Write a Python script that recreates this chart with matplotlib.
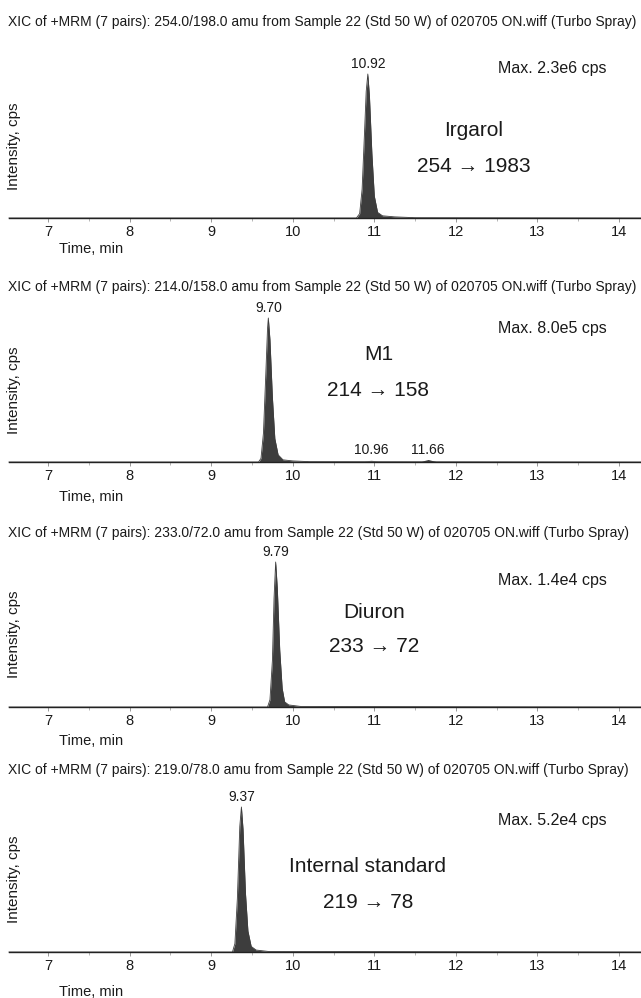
import matplotlib
matplotlib.use("Agg")
import matplotlib.pyplot as plt
from matplotlib.ticker import MultipleLocator

# ---------------- data ----------------
titles = [
    "XIC of +MRM (7 pairs): 254.0/198.0 amu from Sample 22 (Std 50 W) of 020705 ON.wiff (Turbo Spray)",
    "XIC of +MRM (7 pairs): 214.0/158.0 amu from Sample 22 (Std 50 W) of 020705 ON.wiff (Turbo Spray)",
    "XIC of +MRM (7 pairs): 233.0/72.0 amu from Sample 22 (Std 50 W) of 020705 ON.wiff (Turbo Spray)",
    "XIC of +MRM (7 pairs): 219.0/78.0 amu from Sample 22 (Std 50 W) of 020705 ON.wiff (Turbo Spray)",
]
compounds = ["Irgarol", "M1", "Diuron", "Internal standard"]
transitions = ["254 \u2192 1983", "214 \u2192 158", "233 \u2192 72", "219 \u2192 78"]
max_cps = [2.3e6, 8.0e5, 1.4e4, 5.2e4]
max_labels = ["Max. 2.3e6 cps", "Max. 8.0e5 cps", "Max. 1.4e4 cps", "Max. 5.2e4 cps"]
xticks = [7, 8, 9, 10, 11, 12, 13, 14]

irgarol_t = [6.52, 10.78, 10.82, 10.85, 10.88, 10.90, 10.92, 10.94, 10.97, 11.00, 11.04, 11.10, 11.25, 11.50, 14.27]
irgarol_i = [0, 0, 0.07e6, 0.46e6, 1.38e6, 2.02e6, 2.3e6, 1.95e6, 1.03e6, 0.35e6, 0.09e6, 0.035e6, 0.018e6, 0.005e6, 0]

m1_t = [6.52, 9.58, 9.61, 9.64, 9.67, 9.69, 9.70, 9.72, 9.75, 9.78, 9.82, 9.88, 10.0, 10.2, 14.27]
m1_i = [0, 0, 0.02e6, 0.16e6, 0.50e6, 0.74e6, 0.80e6, 0.68e6, 0.36e6, 0.13e6, 0.04e6, 0.012e6, 0.006e6, 0.002e6, 0]
m1_small_t = [10.85, 10.91, 10.96, 11.01, 11.07]
m1_small_i = [0, 0.006e6, 0.011e6, 0.006e6, 0]
m1_small2_t = [11.56, 11.61, 11.66, 11.71, 11.78]
m1_small2_i = [0, 0.008e6, 0.014e6, 0.008e6, 0]

diuron_t = [6.52, 9.69, 9.72, 9.75, 9.77, 9.79, 9.81, 9.84, 9.87, 9.90, 9.95, 10.1, 14.27]
diuron_i = [0, 0, 0.07e4, 0.45e4, 1.05e4, 1.4e4, 1.15e4, 0.55e4, 0.18e4, 0.05e4, 0.02e4, 0.005e4, 0]

is_t = [6.52, 9.26, 9.29, 9.32, 9.35, 9.37, 9.39, 9.42, 9.45, 9.49, 9.55, 9.7, 14.27]
is_i = [0, 0, 0.3e4, 1.9e4, 4.5e4, 5.2e4, 4.4e4, 2.1e4, 0.75e4, 0.2e4, 0.07e4, 0.02e4, 0]

peak_labels = [
    [(10.92, 2.3e6, "10.92")],
    [(9.70, 0.80e6, "9.70"), (10.96, 0.011e6, "10.96"), (11.66, 0.014e6, "11.66")],
    [(9.79, 1.4e4, "9.79")],
    [(9.37, 5.2e4, "9.37")],
]
traces = [(irgarol_t, irgarol_i), (m1_t, m1_i), (diuron_t, diuron_i), (is_t, is_i)]

# ---------------- style ----------------
plt.rcParams["font.family"] = ["Liberation Sans", "DejaVu Sans"]

W, H = 641, 998
fig = plt.figure(figsize=(W / 100, H / 100), dpi=100)

panels = [
    dict(base=218, top=74, title=22, comp=130, trans=167, maxy=68, cx=12.22),
    dict(base=462, top=318, title=287, comp=354, trans=391, maxy=328, cx=11.05),
    dict(base=707, top=562, title=533, comp=612, trans=647, maxy=580, cx=11.0),
    dict(base=952, top=807, title=770, comp=867, trans=903, maxy=820, cx=10.92),
]
x_left_px, x_right_px = 9, 641
timelab_dy = [27, 31, 30, 36]
fill_col = "#3d3d3d"
txt_col = "#1a1a1a"

for k, p in enumerate(panels):
    ax = fig.add_axes([x_left_px / W, 1 - p["base"] / H,
                       (x_right_px - x_left_px) / W, (p["base"] - p["top"]) / H])
    ax.set_xlim(6.52, 14.27)
    ax.set_ylim(0, max_cps[k])
    for s in ["top", "right", "left"]:
        ax.spines[s].set_visible(False)
    ax.spines["bottom"].set_color("#222222")
    ax.spines["bottom"].set_linewidth(1.0)
    ax.set_yticks([])
    ax.set_xticks(xticks)
    ax.xaxis.set_minor_locator(MultipleLocator(0.5))
    ax.tick_params(axis="x", which="major", length=3, width=0.6, color="#888888",
                   labelsize=10.5, labelcolor=txt_col, pad=2)
    ax.tick_params(axis="x", which="minor", length=2, width=0.6, color="#aaaaaa")
    ax.patch.set_alpha(0)

    t, i = traces[k]
    ax.fill_between(t, 0, i, color=fill_col, lw=0, clip_on=False)
    ax.plot(t, i, color=fill_col, lw=0.6, clip_on=False)
    if k == 1:
        ax.fill_between(m1_small_t, 0, m1_small_i, color="#c0c0c0", lw=0)
        ax.fill_between(m1_small2_t, 0, m1_small2_i, color=fill_col, lw=0)

    for (px, py, lab) in peak_labels[k]:
        ax.annotate(lab, (px, py), xytext=(0, 2), textcoords="offset points",
                    ha="center", va="bottom", fontsize=10, color=txt_col,
                    annotation_clip=False)

    fig.text(8 / W, 1 - p["title"] / H, titles[k], ha="left", va="center",
             fontsize=10.0, color=txt_col)
    ax.text(p["cx"], max_cps[k] * (p["base"] - p["comp"]) / (p["base"] - p["top"]),
            compounds[k], ha="center", va="center", fontsize=15, color=txt_col)
    ax.text(p["cx"], max_cps[k] * (p["base"] - p["trans"]) / (p["base"] - p["top"]),
            transitions[k], ha="center", va="center", fontsize=15, color=txt_col)
    ax.text(13.18, max_cps[k] * (p["base"] - p["maxy"]) / (p["base"] - p["top"]),
            max_labels[k], ha="center", va="center", fontsize=11.5, color=txt_col)
    fig.text(14 / W, 1 - (p["base"] + p["top"]) / 2 / H, "Intensity, cps",
             rotation=90, ha="center", va="center", fontsize=11, color=txt_col)
    fig.text(59 / W, 1 - (p["base"] + timelab_dy[k] + 4) / H, "Time, min",
             ha="left", va="center", fontsize=10.5, color=txt_col)

fig.savefig("out.png", dpi=100)
